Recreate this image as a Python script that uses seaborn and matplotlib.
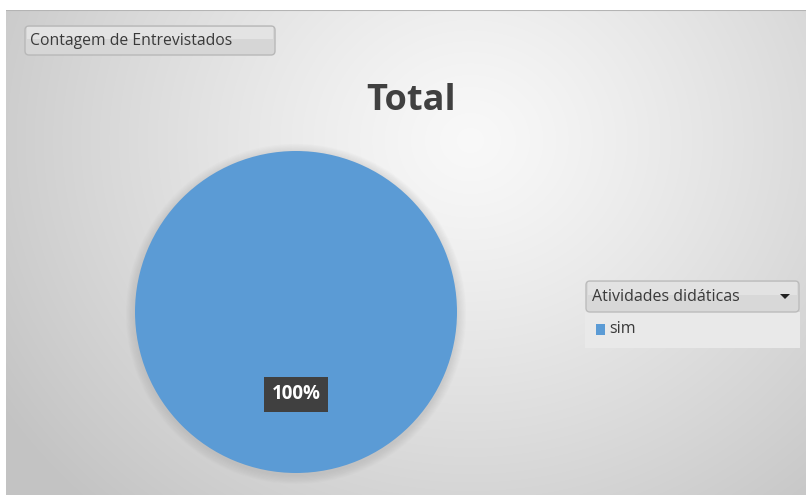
import numpy as np
import matplotlib
matplotlib.use("Agg")
import matplotlib.pyplot as plt
from matplotlib.patches import FancyBboxPatch, Rectangle, Circle, Polygon
import seaborn as sns

# ---- data ----
categories = ["sim"]
values = [100]
pct_labels = ["100%"]
title = "Total"
field_button = "Contagem de Entrevistados"
legend_title = "Atividades didáticas"
pie_color = "#5B9BD5"

sns.set_theme(style="white")
plt.rcParams["font.family"] = ["Open Sans", "DejaVu Sans"]

W, H = 806, 495
fig = plt.figure(figsize=(W / 100, H / 100), dpi=100)
fig.patch.set_facecolor("white")

def fx(px):
    return px / W

def fy(py):
    return 1 - py / H

# ---- background gradient (chart area) ----
bg = fig.add_axes([fx(6), 0, 1 - fx(6), fy(10)])
bg.set_axis_off()
gw, gh = W - 6, H - 10
xx, yy = np.meshgrid(np.arange(gw) + 6, np.arange(gh) + 10)
d = np.sqrt(((xx - 470) / 1.0) ** 2 + ((yy - 140) / 0.9) ** 2)
t = np.clip(d / 560, 0, 1)
val = 0.975 - 0.21 * t ** 1.2
img = np.dstack([val, val, val])
bg.imshow(img, aspect="auto", extent=[0, 1, 0, 1], origin="upper")
bg.set_xlim(0, 1)
bg.set_ylim(0, 1)
bg.add_line(plt.Line2D([0, 1], [1, 1], color="#b4b4b4", lw=1.5))

# ---- pie ----
cx, cy, r = 296, 312, 161
ax = fig.add_axes([fx(cx - r), fy(cy + r), fx(2 * r), (2 * r) / H])
ax.set_axis_off()
wedges, _ = ax.pie(values, colors=[pie_color], startangle=90, counterclock=False,
                   radius=1.0, wedgeprops=dict(linewidth=0))
ax.set_xlim(-1, 1)
ax.set_ylim(-1, 1)
for k in range(8):
    ax.add_patch(Circle((0, -0.012), 1.0 + 0.007 * (k + 1), color="#8a8a8a",
                        alpha=0.03, lw=0, zorder=0, clip_on=False))
for w in wedges:
    w.set_zorder(2)
ax.text(0, -0.51, pct_labels[0], ha="center", va="center", fontsize=13.5,
        fontweight="bold", color="white", zorder=5,
        bbox=dict(boxstyle="square,pad=0.4", fc="#404040", ec="none"))

# ---- title ----
fig.text(fx(411), fy(101), title, ha="center", va="center", fontsize=26,
         fontweight="bold", color="#404040")

# ---- field button ----
ov = fig.add_axes([0, 0, 1, 1])
ov.set_axis_off()
ov.set_xlim(0, W)
ov.set_ylim(H, 0)
ov.add_patch(FancyBboxPatch((25, 26), 250, 29, boxstyle="round,pad=0,rounding_size=4",
                            fc="#d6d6d6", ec="#b8b8b8", lw=1))
ov.add_patch(Rectangle((27, 27), 246, 12, fc="#e3e3e3", ec="none"))
ov.text(30, 41, field_button, ha="left", va="center", fontsize=11.3, color="#3a3a3a")

# ---- legend ----
ov.add_patch(Rectangle((585, 312), 215, 36, fc="#e9e9e9", ec="none"))
ov.add_patch(FancyBboxPatch((586, 281), 213, 31, boxstyle="round,pad=0,rounding_size=4",
                            fc="#d8d8d8", ec="#bcbcbc", lw=1))
ov.add_patch(Rectangle((588, 282), 209, 13, fc="#e2e2e2", ec="none"))
ov.text(592, 297, legend_title, ha="left", va="center", fontsize=11.5, color="#3a3a3a")
ov.add_patch(Polygon([[780, 294], [790, 294], [785, 299]], closed=True, fc="#222222", ec="none"))
ov.add_patch(Rectangle((596, 324), 9, 11, fc=pie_color, ec="none"))
ov.text(609, 329, categories[0], ha="left", va="center", fontsize=11.5, color="#3a3a3a")

fig.savefig("out.png", dpi=100, facecolor=fig.get_facecolor())
